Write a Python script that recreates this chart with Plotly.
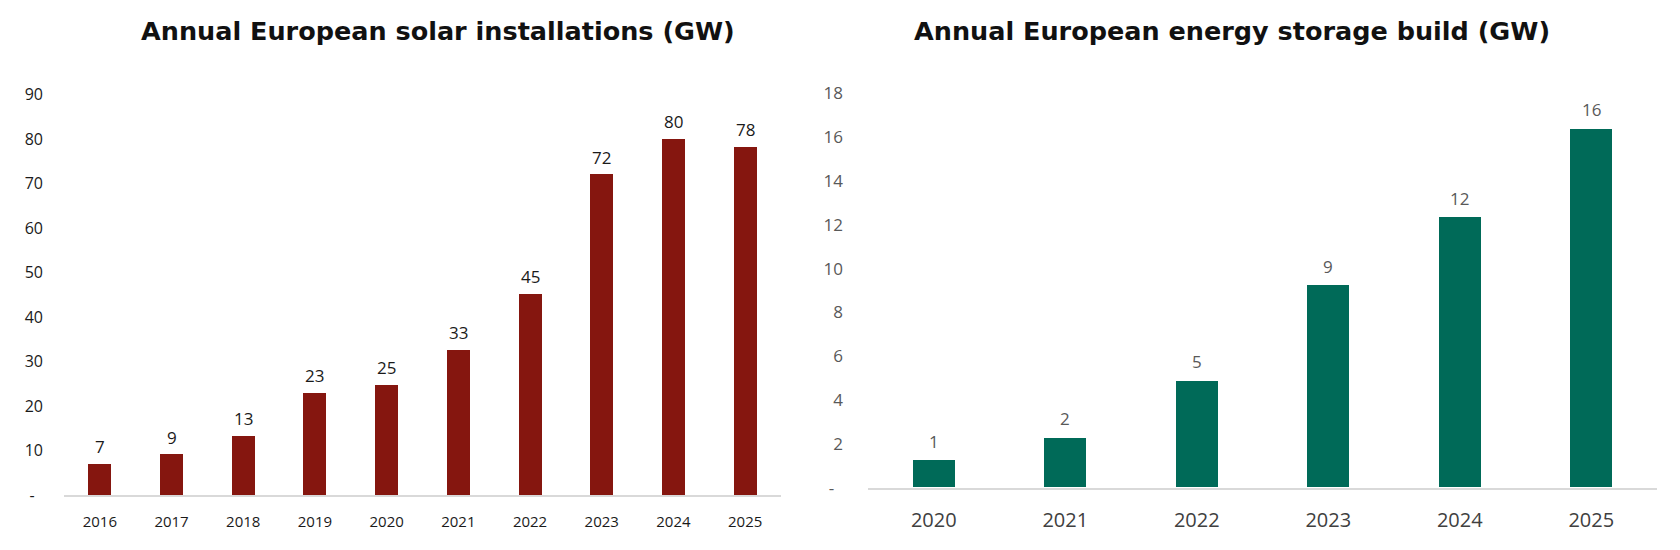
import plotly.graph_objects as go

solar_years = ["2016", "2017", "2018", "2019", "2020", "2021", "2022", "2023", "2024", "2025"]
solar_gw = [7.0, 9.1, 13.3, 22.9, 24.7, 32.6, 45.2, 72.0, 80.0, 78.1]

storage_years = ["2020", "2021", "2022", "2023", "2024", "2025"]
storage_gw = [1.24, 2.25, 4.87, 9.23, 12.33, 16.37]

NB = "\u00a0"
solar_ticks = [0, 10, 20, 30, 40, 50, 60, 70, 80, 90]
solar_ticktext = ["-" + NB * 2, "10", "20", "30", "40", "50", "60", "70", "80", "90"]
storage_ticks = [0, 2, 4, 6, 8, 10, 12, 14, 16, 18]
storage_ticktext = ["-" + NB * 2, "2", "4", "6", "8", "10", "12", "14", "16", "18"]

title_left = "Annual European solar installations (GW)"
title_right = "Annual European energy storage build (GW)"

RED = "#85160f"
GREEN = "#006a58"
FONT = "Open Sans"
TFONT = "DejaVu Sans"

W, H = 1680, 550

fig = go.Figure()
fig.add_trace(go.Bar(x=solar_years, y=solar_gw, marker=dict(color=RED, line=dict(width=0)),
                     width=0.32, xaxis="x", yaxis="y", hoverinfo="x+y"))
fig.add_trace(go.Bar(x=storage_years, y=storage_gw, marker=dict(color=GREEN, line=dict(width=0)),
                     width=0.32, xaxis="x2", yaxis="y2", hoverinfo="x+y"))

annotations = []
for i, yv in enumerate(solar_gw):
    annotations.append(dict(x=i, y=yv, xref="x", yref="y", text=f"{round(yv)}", showarrow=False,
                            yanchor="bottom", yshift=4, font=dict(family=FONT, size=17, color="#1a1a1a")))
for i, yv in enumerate(storage_gw):
    annotations.append(dict(x=i, y=yv, xref="x2", yref="y2", text=f"{round(yv)}", showarrow=False,
                            yanchor="bottom", yshift=6, font=dict(family=FONT, size=17, color="#595959")))
annotations.append(dict(x=438 / W, y=1 - 20 / H, xref="paper", yref="paper", text=f"<b>{title_left}</b>",
                        showarrow=False, xanchor="center", yanchor="middle",
                        font=dict(family=TFONT, size=25.5, color="#111111")))
annotations.append(dict(x=1232 / W, y=1 - 20 / H, xref="paper", yref="paper", text=f"<b>{title_right}</b>",
                        showarrow=False, xanchor="center", yanchor="middle",
                        font=dict(family=TFONT, size=25.5, color="#111111")))

fig.update_layout(
    width=W, height=H,
    margin=dict(l=0, r=0, t=0, b=0),
    paper_bgcolor="white", plot_bgcolor="white",
    showlegend=False,
    bargap=0,
    annotations=annotations,
    xaxis=dict(domain=[64 / W, 781 / W], type="category", range=[-0.5, len(solar_years) - 0.5],
               showgrid=False, zeroline=False,
               showline=True, linecolor="#d9d9d9", linewidth=2, ticks="", ticklabelstandoff=12,
               tickfont=dict(family=FONT, size=15, color="#1a1a1a"), anchor="y", fixedrange=True),
    yaxis=dict(domain=[1 - 504.5 / H, 1 - 86 / H], range=[0, 90], tickvals=solar_ticks,
               ticktext=solar_ticktext, showgrid=False, zeroline=False, showline=False, ticks="",
               ticklabelstandoff=20, tickfont=dict(family=FONT, size=16, color="#1a1a1a"),
               anchor="x", fixedrange=True),
    xaxis2=dict(domain=[868 / W, 1657 / W], type="category", range=[-0.5, len(storage_years) - 0.5],
                showgrid=False, zeroline=False,
                showline=True, linecolor="#d9d9d9", linewidth=2, ticks="", ticklabelstandoff=13,
                tickfont=dict(family=FONT, size=20, color="#404040"), anchor="y2", fixedrange=True),
    yaxis2=dict(domain=[1 - 496.5 / H, 1 - 85 / H], range=[0, 18], tickvals=storage_ticks,
                ticktext=storage_ticktext, showgrid=False, zeroline=False, showline=False, ticks="",
                ticklabelstandoff=24, tickfont=dict(family=FONT, size=17, color="#595959"),
                anchor="x2", fixedrange=True),
)

fig.write_html("out.html", config={"displayModeBar": False},
               post_script="document.body.style.margin='0';document.body.style.overflow='hidden';")
